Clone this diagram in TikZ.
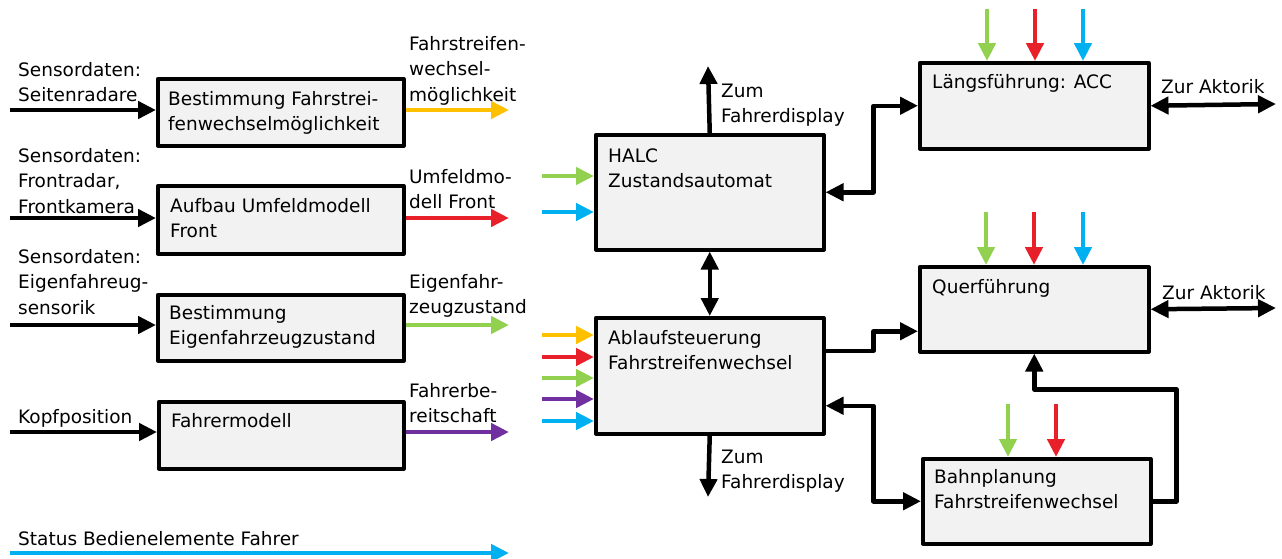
\documentclass[tikz,border=0pt]{standalone}
\usepackage{fontspec}
\setmainfont{DejaVu Sans}
\usetikzlibrary{arrows.meta}

\definecolor{cyel}{HTML}{FFC000}
\definecolor{cred}{HTML}{E8202A}
\definecolor{cgrn}{HTML}{92D050}
\definecolor{cpur}{HTML}{7030A0}
\definecolor{ccya}{HTML}{00B0F0}
\definecolor{boxfill}{HTML}{F2F2F2}

% several left-aligned lines whose first baseline is the node baseline
\newcommand{\mlines}[1]{\begin{tabular}[t]{@{}l@{}}#1\end{tabular}}

\begin{document}
\begin{tikzpicture}[x=1pt,y=-1pt,
  blk/.style={draw=black, line width=3.5pt, fill=boxfill, rectangle,
              inner sep=0pt, anchor=north west, line join=round},
  txt/.style={anchor=base west, inner sep=0pt,
              font=\fontsize{18.5}{25.5}\selectfont},
  flow/.style={line width=4.5pt, line join=round,
               -{Triangle[length=18pt,width=17pt]}},
  flowboth/.style={line width=4.5pt, line join=round,
               {Triangle[length=18pt,width=17pt]}-{Triangle[length=18pt,width=17pt]}},
]
\useasboundingbox (0,0) rectangle (1282,558);

% ---------- left column: preprocessing blocks ----------
\node[blk, minimum width=246pt, minimum height=67pt] (b1) at (156,77) {};
\node[blk, minimum width=246pt, minimum height=68pt] (b2) at (156,184) {};
\node[blk, minimum width=246pt, minimum height=66pt] (b3) at (156,293) {};
\node[blk, minimum width=245pt, minimum height=67pt] (b4) at (157,400) {};

\node[txt] (b1t) at ([shift={(12,28)}]b1.north west) {\mlines{Bestimmung Fahrstrei-\\fenwechselmöglichkeit}};
\node[txt] (b2t) at ([shift={(14,28)}]b2.north west) {\mlines{Aufbau Umfeldmodell\\Front}};
\node[txt] (b3t) at ([shift={(13,26)}]b3.north west) {\mlines{Bestimmung\\Eigenfahrzeugzustand}};
\node[txt] (b4t) at ([shift={(14,27)}]b4.north west) {Fahrermodell};

% sensor inputs
\coordinate (i1) at (10,110);
\coordinate (i2) at (10,218);
\coordinate (i3) at (10,325);
\coordinate (i4) at (10,432);
\draw[flow] (i1) -- (i1 -| b1.west);
\draw[flow] (i2) -- (i2 -| b2.west);
\draw[flow] (i3) -- (i3 -| b3.west);
\draw[flow] (i4) -- (i4 -| b4.west);

\node[txt] (l1) at (18,76) {\mlines{Sensordaten:\\Seitenradare}};
\node[txt] (l2) at (18,162) {\mlines{Sensordaten:\\Frontradar,\\Frontkamera}};
\node[txt] (l3) at (18,263) {\mlines{Sensordaten:\\Eigenfahreug-\\sensorik}};
\node[txt] (l4) at (18,423) {Kopfposition};

% block outputs
\coordinate (o1) at (509,110);
\coordinate (o2) at (509,218);
\coordinate (o3) at (509,325);
\coordinate (o4) at (509,432);
\draw[flow, cyel] (b1.east |- o1) -- (o1);
\draw[flow, cred] (b2.east |- o2) -- (o2);
\draw[flow, cgrn] (b3.east |- o3) -- (o3);
\draw[flow, cpur] (b4.east |- o4) -- (o4);

\node[txt] (r1) at (409,50) {\mlines{Fahrstreifen-\\wechsel-\\möglichkeit}};
\node[txt] (r2) at (409,183) {\mlines{Umfeldmo-\\dell Front}};
\node[txt] (r3) at (409,288) {\mlines{Eigenfahr-\\zeugzustand}};
\node[txt] (r4) at (409,397) {\mlines{Fahrerbe-\\reitschaft}};

% operator status line
\coordinate (s0) at (10,553);
\coordinate (s1) at (509,553);
\draw[flow, ccya] (s0) -- (s1);
\node[txt] (st) at (18,545) {Status Bedienelemente Fahrer};

% ---------- middle column ----------
\node[blk, minimum width=228pt, minimum height=115pt] (halc) at (594,133) {};
\node[blk, minimum width=228pt, minimum height=116pt] (abl) at (594,316) {};
\node[txt] (halct) at ([shift={(14,29)}]halc.north west) {\mlines{HALC\\Zustandsautomat}};
\node[txt] (ablt) at ([shift={(14,28)}]abl.north west) {\mlines{Ablaufsteuerung\\Fahrstreifenwechsel}};

\coordinate (h1) at (542,176);
\coordinate (h2) at (542,212);
\draw[flow, cgrn] (h1) -- (h1 -| halc.west);
\draw[flow, ccya] (h2) -- (h2 -| halc.west);

\coordinate (a1) at (542,335);
\coordinate (a2) at (542,357);
\coordinate (a3) at (542,378);
\coordinate (a4) at (542,399);
\coordinate (a5) at (542,421);
\draw[flow, cyel] (a1) -- (a1 -| abl.west);
\draw[flow, cred] (a2) -- (a2 -| abl.west);
\draw[flow, cgrn] (a3) -- (a3 -| abl.west);
\draw[flow, cpur] (a4) -- (a4 -| abl.west);
\draw[flow, ccya] (a5) -- (a5 -| abl.west);

\coordinate (d1) at (708,66);
\coordinate (d2) at (708,497);
\draw[flow] (halc.north) -- (d1);
\draw[flowboth] (halc.south) -- (abl.north);
\draw[flow] (abl.south) -- (d2);
\node[txt] (d1t) at (721,97) {\mlines{Zum\\Fahrerdisplay}};
\node[txt] (d2t) at (721,463) {\mlines{Zum\\Fahrerdisplay}};

% ---------- right column ----------
\node[blk, minimum width=229pt, minimum height=86pt] (lng) at (918,61) {};
\node[blk, minimum width=229pt, minimum height=85pt] (qer) at (918,265) {};
\node[blk, minimum width=228pt, minimum height=85pt] (bahn) at (921,457) {};
\node[txt] (lngt) at ([shift={(14,27)}]lng.north west) {Längsführung: ACC};
\node[txt] (qert) at ([shift={(14,28)}]qer.north west) {Querführung};
\node[txt] (bahnt) at ([shift={(13,26)}]bahn.north west) {\mlines{Bahnplanung\\Fahrstreifenwechsel}};

% colour-coded inputs from above
\coordinate (t1) at (987,9);
\coordinate (t2) at (1035,9);
\coordinate (t3) at (1083,9);
\draw[flow, cgrn] (t1) -- (t1 |- lng.north);
\draw[flow, cred] (t2) -- (t2 |- lng.north);
\draw[flow, ccya] (t3) -- (t3 |- lng.north);

\coordinate (q1) at (986,212);
\coordinate (q2) at (1034,212);
\coordinate (q3) at (1083,212);
\draw[flow, cgrn] (q1) -- (q1 |- qer.north);
\draw[flow, cred] (q2) -- (q2 |- qer.north);
\draw[flow, ccya] (q3) -- (q3 |- qer.north);

\coordinate (p1) at (1008,404);
\coordinate (p2) at (1056,404);
\draw[flow, cgrn] (p1) -- (p1 |- bahn.north);
\draw[flow, cred] (p2) -- (p2 |- bahn.north);

% actuator links
\coordinate (ak1) at (1276,104);
\coordinate (ak2) at (1276,308);
\draw[flowboth] (lng.east) -- (ak1);
\draw[flowboth] (qer.east) -- (ak2);
\node[txt] (ak1t) at (1161,93) {Zur Aktorik};
\node[txt] (ak2t) at (1162,299) {Zur Aktorik};

% links between the controllers
\draw[flowboth] (halc.east) -- ++(48,0) |- (lng.west);
\draw[flow] ([yshift=25pt]abl.east) -- ++(48,0) |- ([yshift=-22pt]qer.west);
\draw[flowboth] ([yshift=-30pt]abl.east) -- ++(48,0) |- (bahn.west);
\draw[flow] (bahn.east) -- ++(24,0) |- ([yshift=-36pt]qer.south) -- (qer.south);

\end{tikzpicture}
\end{document}
